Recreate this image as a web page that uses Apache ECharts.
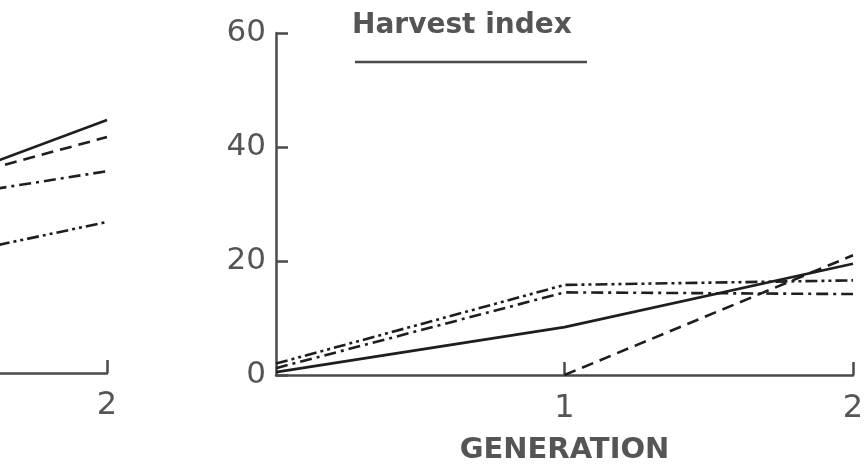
<!DOCTYPE html>
<html>
<head>
<meta charset="utf-8">
<script src="https://cdn.jsdelivr.net/npm/echarts@6/dist/echarts.min.js"></script>
<style>html,body{margin:0;padding:0;background:#fff}#c{width:865px;height:466px}</style>
</head>
<body>
<div id="c"></div>
<script>
const generations = [0, 1, 2];
const yTicks = [0, 20, 40, 60];
const xTicks = [1, 2];
const titleText = 'Harvest index';
const xName = 'GENERATION';

// left panel (only its right end is visible)
const leftSolid = [null, 25.7, 44.4];
const leftDashed = [null, 27.8, 41.4];
const leftDashDot = [null, 27.5, 35.4];
const leftDashDotDot = [null, 15.9, 26.5];

// right panel: Harvest index
const hiSolid = [0.5, 8.4, 19.5];
const hiDashed = [null, 0, 21.0];
const hiDashDot = [1.2, 14.5, 14.2];
const hiDashDotDot = [2.0, 15.8, 16.6];

const ink = '#1e1e1e';
const axisInk = '#4a4a4a';
const textInk = '#555';
const font = 'DejaVu Sans';

const styles = {
  solid: 'solid',
  dashed: [12, 7],
  dashDot: [12, 5, 3, 5],
  dashDotDot: [12, 4, 3, 4, 3, 4]
};

function pts(arr) {
  return generations.map((g, i) => [g, arr[i]]).filter(p => p[1] !== null);
}
function mk(name, arr, type, gi) {
  return {
    name, type: 'line', xAxisIndex: gi, yAxisIndex: gi,
    data: pts(arr), symbol: 'none', animation: false,
    lineStyle: { color: ink, width: 2.6, type: type }
  };
}

const chart = echarts.init(document.getElementById('c'));
chart.setOption({
  backgroundColor: '#fff',
  animation: false,
  grid: [
    { left: 0, width: 107, top: 31, bottom: 93, outerBoundsMode: 'none', containLabel: false },
    { left: 276, right: 12, top: 33, bottom: 91, outerBoundsMode: 'none', containLabel: false }
  ],
  xAxis: [
    {
      gridIndex: 0, type: 'value', min: 1.625, max: 2, interval: 0.125,
      axisLine: { show: true, lineStyle: { color: axisInk, width: 2.5 } },
      axisTick: { show: true, inside: true, length: 13, customValues: [2], lineStyle: { color: axisInk, width: 2.5 } },
      axisLabel: { show: true, customValues: [2], margin: 17, color: textInk, fontSize: 32, fontFamily: font },
      splitLine: { show: false }
    },
    {
      gridIndex: 1, type: 'value', min: 0, max: 2, interval: 1,
      axisLine: { show: true, lineStyle: { color: axisInk, width: 2.5 } },
      axisTick: { show: true, inside: true, length: 13, customValues: xTicks, lineStyle: { color: axisInk, width: 2.5 } },
      axisLabel: { show: true, customValues: xTicks, margin: 18, color: textInk, fontSize: 32, fontFamily: font },
      splitLine: { show: false },
      name: xName, nameLocation: 'middle', nameGap: 61,
      nameTextStyle: { color: textInk, fontSize: 29, fontWeight: 'bold', fontFamily: font }
    }
  ],
  yAxis: [
    {
      gridIndex: 0, type: 'value', min: 0, max: 60, interval: 20, show: false
    },
    {
      gridIndex: 1, type: 'value', min: 0, max: 60, interval: 20,
      axisLine: { show: true, lineStyle: { color: axisInk, width: 2.5 } },
      axisTick: { show: true, inside: true, length: 12, lineStyle: { color: axisInk, width: 2.5 } },
      axisLabel: { show: true, margin: 10, color: textInk, fontSize: 31, fontFamily: font,
        customValues: yTicks },
      splitLine: { show: false }
    }
  ],
  graphic: [
    { type: 'text', left: 352, top: 12, style: { text: titleText, fill: textInk, font: 'bold 28px "DejaVu Sans"' } },
    { type: 'line', shape: { x1: 355, y1: 62, x2: 587, y2: 62 }, style: { stroke: axisInk, lineWidth: 2.5 } }
  ],
  series: [
    mk('L solid', leftSolid, styles.solid, 0),
    mk('L dashed', leftDashed, styles.dashed, 0),
    mk('L dashdot', leftDashDot, styles.dashDot, 0),
    mk('L dashdotdot', leftDashDotDot, styles.dashDotDot, 0),
    mk('solid', hiSolid, styles.solid, 1),
    mk('dashed', hiDashed, styles.dashed, 1),
    mk('dashdot', hiDashDot, styles.dashDot, 1),
    mk('dashdotdot', hiDashDotDot, styles.dashDotDot, 1)
  ]
});
</script>
</body>
</html>
